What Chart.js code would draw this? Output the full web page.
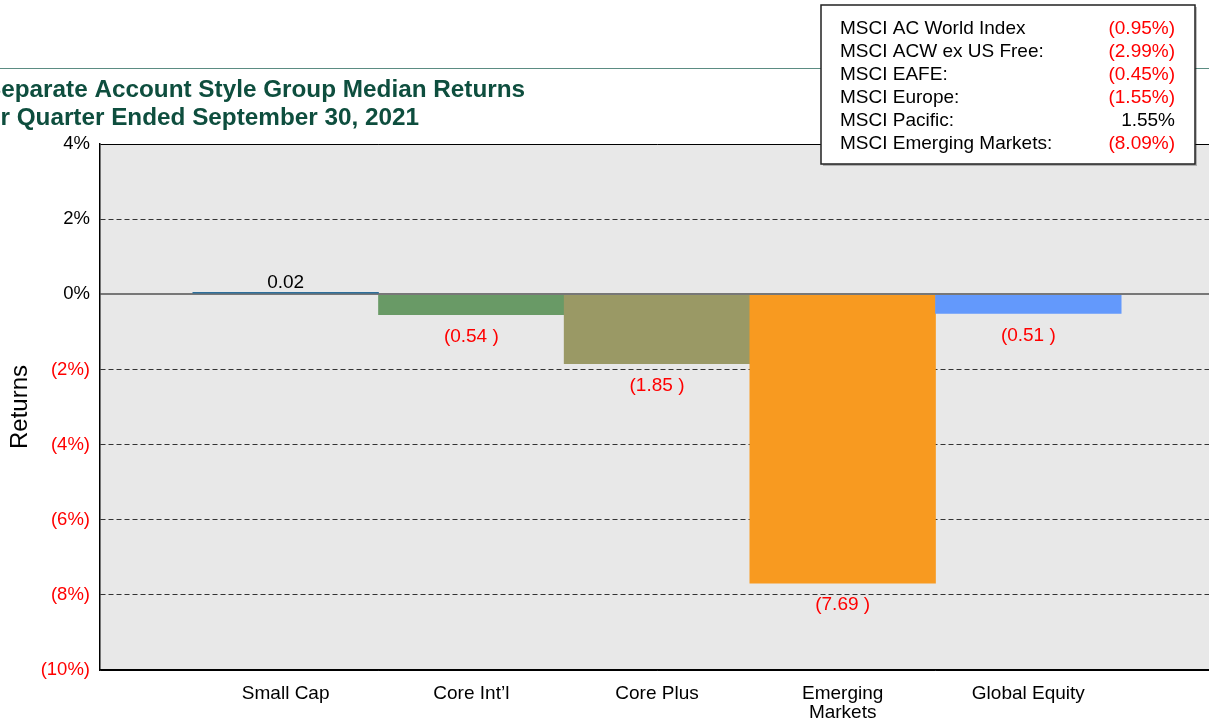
<!DOCTYPE html>
<html>
<head>
<meta charset="utf-8">
<title>Separate Account Style Group Median Returns</title>
<script src="https://cdn.jsdelivr.net/npm/chart.js@4.4.0/dist/chart.umd.min.js"></script>
<style>
  html, body { margin: 0; padding: 0; background: #fff; overflow: hidden; }
  #wrap { position: relative; width: 1209px; height: 721px; overflow: hidden; }
  canvas { display: block; }
</style>
</head>
<body>
<div id="wrap"><canvas id="styleChart" width="1220" height="721"></canvas></div>
<script>
const FONT = '"Liberation Sans", Arial, sans-serif';

const titleLines = ['Separate Account Style Group Median Returns', 'for Quarter Ended September 30, 2021'];
const titleX = [-15, -22.5]; // the source image is cropped on the left
// empty slots on both ends keep the bars a full category away from the axis
const styleGroups = ['', 'Small Cap', 'Core Int’l', 'Core Plus', ['Emerging', 'Markets'], 'Global Equity', ''];
const medianReturns = [null, 0.02, -0.54, -1.85, -7.69, -0.51, null];
const barColors = ['#000', '#2d6e9a', '#699a66', '#9a9965', '#f89a20', '#6399fc', '#000'];

const indexNames = ['MSCI AC World Index', 'MSCI ACW ex US Free:', 'MSCI EAFE:', 'MSCI Europe:', 'MSCI Pacific:', 'MSCI Emerging Markets:'];
const indexReturns = [-0.95, -2.99, -0.45, -1.55, 1.55, -8.09];

const yMin = -10, yMax = 4, yStep = 2;

Chart.defaults.font.family = FONT;

function pctLabel(v, digits) {
  const s = Math.abs(v).toFixed(digits) + '%';
  return v < 0 ? '(' + s + ')' : s;
}

const backdrop = {
  id: 'backdrop',
  beforeDraw(chart) {
    const { ctx, chartArea: a } = chart;
    ctx.save();
    ctx.fillStyle = '#e8e8e8';
    ctx.fillRect(a.left, a.top, a.right - a.left, a.bottom - a.top);
    // header rule
    ctx.strokeStyle = '#5b8c82';
    ctx.lineWidth = 1;
    ctx.beginPath();
    ctx.moveTo(0, 68.5);
    ctx.lineTo(chart.width, 68.5);
    ctx.stroke();
    ctx.fillStyle = '#0e4e3e';
    ctx.font = 'bold 24.3px ' + FONT;
    ctx.textAlign = 'left';
    ctx.textBaseline = 'alphabetic';
    titleLines.forEach((t, i) => ctx.fillText(t, titleX[i], 97 + i * 28));
    ctx.restore();
  }
};

const valueLabels = {
  id: 'valueLabels',
  afterDatasetsDraw(chart) {
    const { ctx } = chart;
    const meta = chart.getDatasetMeta(0);
    ctx.save();
    ctx.font = '19px ' + FONT;
    ctx.textAlign = 'center';
    ctx.textBaseline = 'middle';
    meta.data.forEach((bar, i) => {
      const v = medianReturns[i];
      if (v == null) return;
      if (v < 0) {
        ctx.fillStyle = '#ff0000';
        ctx.fillText('(' + Math.abs(v).toFixed(2) + ' )', bar.x, bar.y + 22);
      } else {
        ctx.fillStyle = '#000';
        ctx.fillText(v.toFixed(2), bar.x, bar.y - 10);
      }
    });
    ctx.restore();
  }
};

const indexBox = {
  id: 'indexBox',
  afterDraw(chart) {
    const { ctx } = chart;
    const x = 821, y = 5, w = 374, h = 159;
    ctx.save();
    ctx.fillStyle = 'rgba(0,0,0,0.25)';
    ctx.fillRect(x + 2, y + 2, w, h);
    ctx.fillStyle = '#fff';
    ctx.fillRect(x, y, w, h);
    ctx.strokeStyle = '#222';
    ctx.lineWidth = 1.5;
    ctx.strokeRect(x, y, w, h);
    ctx.font = '19px ' + FONT;
    ctx.textBaseline = 'middle';
    indexNames.forEach((name, i) => {
      const ty = 29 + i * 23;
      ctx.fillStyle = '#000';
      ctx.textAlign = 'left';
      ctx.fillText(name, 840, ty);
      const r = indexReturns[i];
      ctx.fillStyle = r < 0 ? '#ff0000' : '#000';
      ctx.textAlign = 'right';
      ctx.fillText(pctLabel(r, 2), 1175, ty);
    });
    ctx.restore();
  }
};

const isEdge = v => v === yMin || v === yMax;

new Chart(document.getElementById('styleChart'), {
  type: 'bar',
  data: {
    labels: styleGroups,
    datasets: [{
      data: medianReturns,
      backgroundColor: barColors,
      borderWidth: 0,
      minBarLength: 2,
      categoryPercentage: 1,
      barPercentage: 1
    }]
  },
  options: {
    responsive: false,
    animation: false,
    layout: { padding: { top: 144, right: 6, bottom: 0, left: 0 } },
    plugins: {
      legend: { display: false },
      tooltip: { enabled: false },
      title: { display: false }
    },
    scales: {
      x: {
        offset: false,
        grid: { display: false },
        border: { color: '#000', width: 1.5 },
        ticks: {
          autoSkip: false,
          maxRotation: 0,
          minRotation: 0,
          padding: 6,
          color: '#000',
          font: { size: 19, lineHeight: 1 }
        },
        afterFit: s => { s.height = 51; }
      },
      y: {
        min: yMin,
        max: yMax,
        ticks: {
          stepSize: yStep,
          padding: 10,
          color: c => c.tick && c.tick.value < 0 ? '#ff0000' : '#000',
          font: { size: 18.5 },
          callback: v => pctLabel(v, 0)
        },
        grid: {
          drawTicks: false,
          color: c => {
            const v = c.tick ? c.tick.value : null;
            if (v === 0) return '#777';
            if (isEdge(v)) return '#000';
            return '#333';
          },
          lineWidth: c => (c.tick && c.tick.value === 0) ? 2 : 1
        },
        border: {
          color: '#000',
          width: 1.5,
          dash: c => {
            const v = c.tick ? c.tick.value : 0;
            return (v === 0 || isEdge(v)) ? [] : [5, 3];
          }
        },
        title: { display: true, text: 'Returns', color: '#000', font: { size: 24 }, padding: 6 },
        afterFit: s => { s.width = 100; }
      }
    }
  },
  plugins: [backdrop, valueLabels, indexBox]
});
</script>
</body>
</html>
